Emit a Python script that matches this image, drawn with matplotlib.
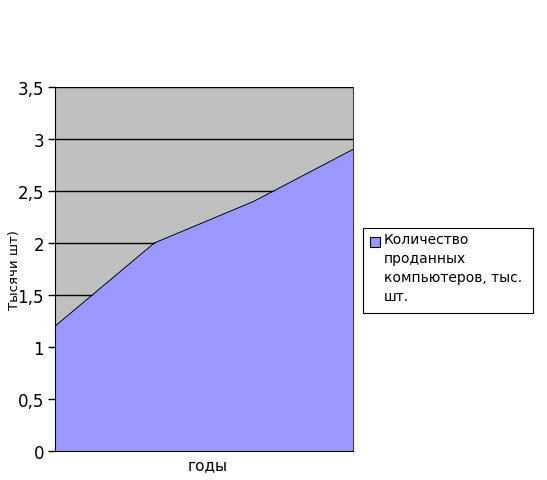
import matplotlib
matplotlib.use('Agg')
import matplotlib.pyplot as plt
from matplotlib.patches import Rectangle
from matplotlib.ticker import FuncFormatter

# data
points = [0, 1, 2, 3]
sold = [1.2, 2.0, 2.4, 2.9]
yticks = [0, 0.5, 1, 1.5, 2, 2.5, 3, 3.5]
series_name = 'Количество\nпроданных\nкомпьютеров, тыс.\nшт.'

plt.rcParams['font.family'] = 'DejaVu Sans'

W, H = 547, 481
fig = plt.figure(figsize=(W/100, H/100), dpi=100)
ax = fig.add_axes([55/W, 29/H, 298/W, 364/H])
ax.set_facecolor('#C0C0C0')

area_color = '#9999FF'
ax.fill_between(points, sold, 0, color=area_color, linewidth=0, zorder=2)
ax.plot(points, sold, color='black', linewidth=0.7, zorder=3)

ax.set_xlim(points[0], points[-1])
ax.set_ylim(0, 3.5)
ax.set_yticks(yticks)
ax.yaxis.set_major_formatter(FuncFormatter(lambda v, p: ('%g' % v).replace('.', ',')))
ax.set_xticks([])
ax.grid(axis='y', color='black', linewidth=1, zorder=1)
ax.set_axisbelow(True)
ax.tick_params(axis='y', length=5, width=1, labelsize=12, pad=3, color='black')

ax.spines['top'].set_visible(False)
ax.spines['right'].set_color('#404040')
for s in ['left', 'bottom']:
    ax.spines[s].set_color('black')

fig.text(15/W, 1 - 270/H, 'Тысячи шт)', rotation=90, ha='center', va='center',
         fontsize=9.5)
fig.text(208/W, 1 - 466/H, 'годы', ha='center', va='center', fontsize=11)

# legend box drawn by hand so the key sits on the first text line
fig.patches.append(Rectangle((363/W, 1 - 314/H), 170/W, 85/H, transform=fig.transFigure,
                             facecolor='white', edgecolor='black', linewidth=0.8))
fig.patches.append(Rectangle((370/W, 1 - 248/H), 10/W, 10/H, transform=fig.transFigure,
                             facecolor=area_color, edgecolor='black', linewidth=0.8))
fig.text(384/W, 1 - 233/H, series_name, ha='left', va='top', fontsize=10,
         linespacing=1.45)

fig.savefig('out.png', dpi=100, facecolor='white')
